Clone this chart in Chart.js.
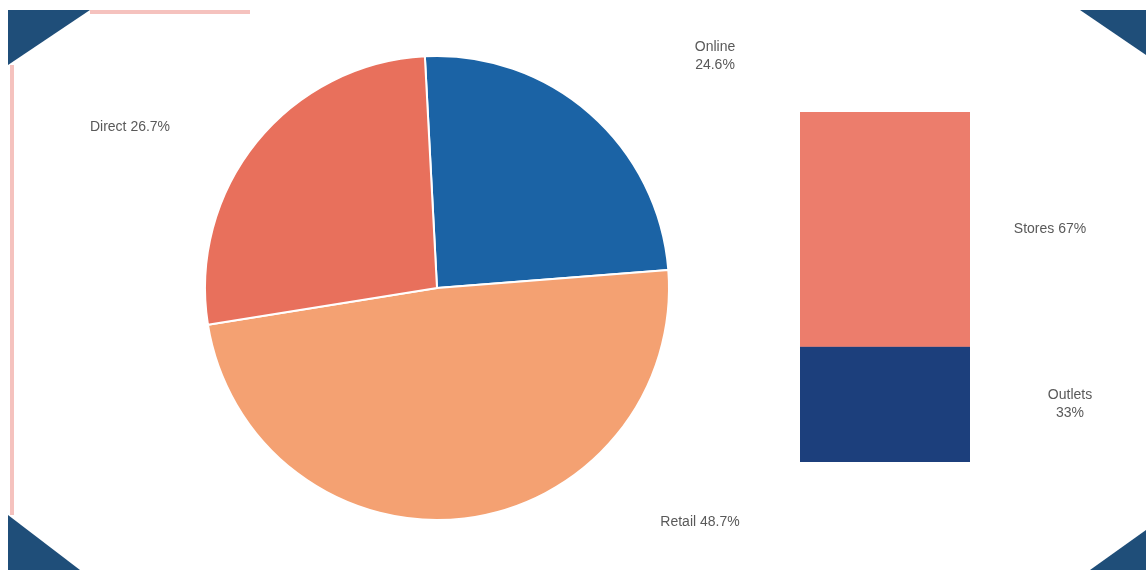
<!DOCTYPE html>
<html>
<head>
<meta charset="utf-8">
<script src="https://cdn.jsdelivr.net/npm/chart.js@4/dist/chart.umd.min.js"></script>
<style>
  html, body { margin: 0; padding: 0; background: #fff; }
  #wrap { position: relative; width: 1146px; height: 570px; overflow: hidden; }
  #pieChart { position: absolute; left: 0; top: 0; }
  #barChart { position: absolute; left: 760px; top: 0; }
</style>
</head>
<body>
<div id="wrap">
  <canvas id="pieChart" width="1146" height="570"></canvas>
  <canvas id="barChart" width="386" height="570"></canvas>
</div>
<script>
// pie slices (start just left of 12 o'clock, clockwise)
var pieLabels = ["Online", "Retail", "Direct"];
var pieValues = [24.6, 48.7, 26.7];
var pieColors = ["#1b63a5", "#f4a172", "#e8705c"];

// breakdown of the big slice
var barLabels = ["Stores", "Outlets"];
var barValues = [67, 33];
var barColors = ["#ec7d6c", "#1c3f7c"];

var textColor = "#595959";
var textFont = "14px 'Liberation Sans', Arial, sans-serif";

// where each pie label sits, relative to the chart centre
var pieLabelOffset = [[278, -232], [263, 234], [-307, -161]];

var frame = {
  id: 'frame',
  beforeDraw: function(chart){
    var c = chart.ctx;
    c.save();
    c.fillStyle = "#1f4e79";
    c.fillRect(8, 10, 1138, 560);
    c.fillStyle = "#fff";
    c.beginPath();
    c.moveTo(90, 10);
    c.lineTo(1080, 10);
    c.lineTo(1146, 55);
    c.lineTo(1146, 530);
    c.lineTo(1090, 570);
    c.lineTo(80, 570);
    c.lineTo(8, 515);
    c.lineTo(8, 65);
    c.closePath();
    c.fill();
    c.strokeStyle = "rgba(232,120,110,0.45)";
    c.lineWidth = 4;
    c.beginPath();
    c.moveTo(12, 65); c.lineTo(12, 515);
    c.moveTo(90, 12); c.lineTo(250, 12);
    c.stroke();
    c.restore();
  }
};

var pieText = {
  id: 'pieText',
  afterDatasetsDraw: function(chart){
    var c = chart.ctx;
    var arc0 = chart.getDatasetMeta(0).data[0];
    var total = pieValues.reduce(function(a,b){ return a+b; }, 0);
    c.save();
    c.fillStyle = textColor;
    c.font = textFont;
    c.textAlign = "center";
    c.textBaseline = "middle";
    pieValues.forEach(function(v,i){
      var x = arc0.x + pieLabelOffset[i][0];
      var y = arc0.y + pieLabelOffset[i][1];
      var pct = (v/total*100).toFixed(1) + "%";
      if(i == 0){
        c.fillText(pieLabels[i], x, y - 9);
        c.fillText(pct, x, y + 9);
      } else {
        c.fillText(pieLabels[i] + " " + pct, x, y);
      }
    });
    c.restore();
  }
};

var barText = {
  id: 'barText',
  afterDatasetsDraw: function(chart){
    var c = chart.ctx;
    c.save();
    c.fillStyle = textColor;
    c.font = textFont;
    c.textAlign = "center";
    c.textBaseline = "middle";
    chart.data.datasets.forEach(function(ds,i){
      var bar = chart.getDatasetMeta(i).data[0];
      var midY = (bar.y + bar.base)/2;
      var x = bar.x + bar.width/2;
      if(i == 0){
        c.fillText(barLabels[i] + " " + barValues[i] + "%", x + 80, midY);
      } else {
        c.fillText(barLabels[i], x + 100, midY - 9);
        c.fillText(barValues[i] + "%", x + 100, midY + 9);
      }
    });
    c.restore();
  }
};

new Chart(document.getElementById("pieChart").getContext('2d'), {
  type: 'pie',
  data: {
    labels: pieLabels,
    datasets: [{
      data: pieValues,
      backgroundColor: pieColors,
      borderColor: "#fff",
      borderWidth: 2
    }]
  },
  options: {
    responsive: false,
    animation: false,
    rotation: -3,
    layout: { padding: { left: 200, right: 472, top: 55, bottom: 49 } },
    plugins: { legend: { display: false }, tooltip: { enabled: false } }
  },
  plugins: [frame, pieText]
});

new Chart(document.getElementById("barChart").getContext('2d'), {
  type: 'bar',
  data: {
    labels: [""],
    datasets: barValues.map(function(v,i){
      return {
        label: barLabels[i],
        data: [v],
        backgroundColor: barColors[i],
        borderWidth: 0,
        barPercentage: 1,
        categoryPercentage: 1
      };
    })
  },
  options: {
    responsive: false,
    animation: false,
    layout: { padding: { left: 40, right: 176, top: 112, bottom: 108 } },
    scales: {
      x: { stacked: true, display: false },
      y: { stacked: true, display: false, min: 0, max: 100, reverse: true }
    },
    plugins: { legend: { display: false }, tooltip: { enabled: false } }
  },
  plugins: [barText]
});
</script>
</body>
</html>
